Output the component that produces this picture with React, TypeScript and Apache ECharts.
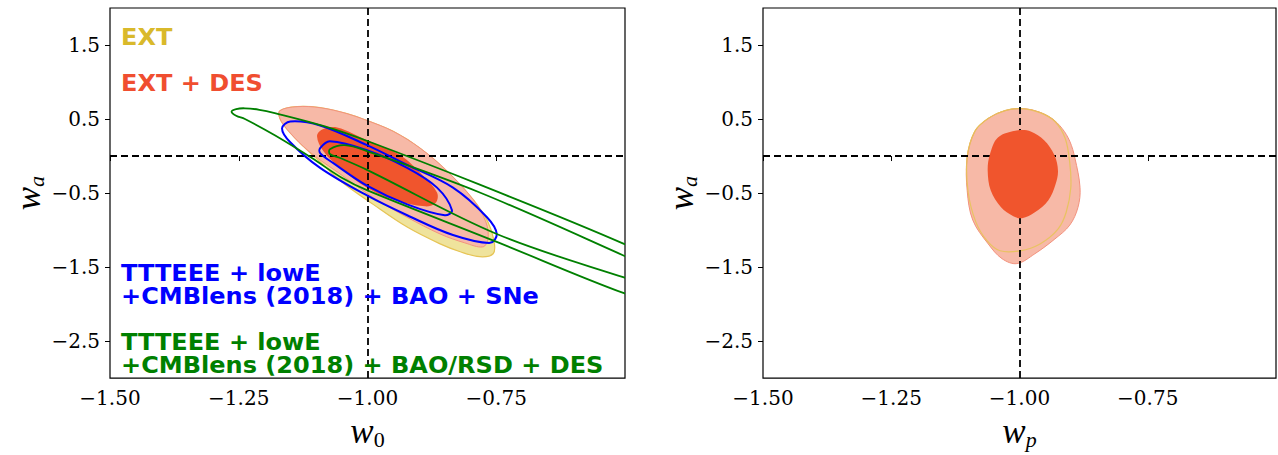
import React, { useEffect, useRef } from "react";
import * as echarts from "echarts";

// ---- axes ----
const X_MIN = -1.5;
const X_MAX = -0.5;
const Y_MIN = -3;
const Y_MAX = 2;
const xTickValues = [-1.5, -1.25, -1.0, -0.75];
const yTickValues = [-2.5, -1.5, -0.5, 0.5, 1.5];
const refW = -1.0;
const refWa = 0;

// ---- left panel contours (w0, wa) ----
const extOuterLeft = [
  [-1.17, 0.613], [-1.137, 0.667], [-1.092, 0.653], [-1.04, 0.573], [-1.001, 0.48],
  [-0.95, 0.333], [-0.898, 0.107], [-0.846, -0.2], [-0.795, -0.587], [-0.766, -0.893],
  [-0.754, -1.16], [-0.756, -1.32], [-0.782, -1.36], [-0.82, -1.293], [-0.859, -1.187],
  [-0.923, -0.96], [-0.989, -0.653], [-1.053, -0.333], [-1.092, -0.08], [-1.125, 0.133],
  [-1.156, 0.36], [-1.17, 0.507],
];
const extInnerLeft = [
  [-1.1, 0.29], [-1.09, 0.38], [-1.059, 0.4], [-1.001, 0.22], [-0.937, 0.0],
  [-0.89, -0.28], [-0.86, -0.52], [-0.862, -0.66], [-0.885, -0.71], [-0.95, -0.61],
  [-1.001, -0.45], [-1.055, -0.18], [-1.088, 0.06],
];
const desOuterLeft = [
  [-1.17, 0.613], [-1.137, 0.667], [-1.092, 0.653], [-1.04, 0.573], [-1.001, 0.48],
  [-0.95, 0.333], [-0.898, 0.107], [-0.846, -0.2], [-0.795, -0.587], [-0.77, -0.893],
  [-0.766, -1.12], [-0.776, -1.227], [-0.811, -1.173], [-0.859, -1.053], [-0.923, -0.827],
  [-0.989, -0.56], [-1.059, -0.213], [-1.092, -0.053], [-1.125, 0.133], [-1.156, 0.36],
  [-1.17, 0.507],
];
const desInnerLeft = [
  [-1.098, 0.267], [-1.088, 0.36], [-1.059, 0.387], [-1.001, 0.213], [-0.937, 0.013],
  [-0.892, -0.267], [-0.865, -0.493], [-0.867, -0.627], [-0.888, -0.68], [-0.95, -0.587],
  [-1.001, -0.427], [-1.053, -0.16], [-1.086, 0.067],
];
const blueOuterLeft = [
  [-1.166, 0.373], [-1.15, 0.467], [-1.092, 0.413], [-1.001, 0.147], [-0.923, -0.12],
  [-0.834, -0.427], [-0.768, -0.827], [-0.749, -1.053], [-0.762, -1.173], [-0.834, -1.067],
  [-0.923, -0.8], [-1.001, -0.533], [-1.092, -0.16], [-1.15, 0.187],
];
const blueInnerLeft = [
  [-1.092, 0.107], [-1.073, 0.2], [-1.001, 0.08], [-0.923, -0.16], [-0.865, -0.427],
  [-0.836, -0.733], [-0.85, -0.8], [-0.923, -0.653], [-1.001, -0.4], [-1.067, -0.093],
  [-1.092, 0.04],
];
const greenOuterLeft = [
  [-1.264, 0.6], [-1.255, 0.635], [-1.238, 0.645], [-1.21, 0.625], [-1.18, 0.58],
  [-1.083, 0.4], [-0.999, 0.2], [-0.782, -0.387], [-0.502, -1.187], [-0.354, -1.693],
  [-0.238, -2.267], [-0.354, -2.173], [-0.502, -1.853], [-0.749, -1.16], [-0.999, -0.467],
  [-1.05, -0.293], [-1.108, -0.027], [-1.18, 0.28], [-1.238, 0.5], [-1.255, 0.545],
];
const greenInnerLeft = [
  [-1.073, 0.093], [-1.044, 0.147], [-1.001, 0.067], [-0.782, -0.493], [-0.502, -1.347],
  [-0.455, -1.507], [-0.422, -1.71], [-0.455, -1.72], [-0.502, -1.64], [-0.749, -1.053],
  [-1.001, -0.187], [-1.053, -0.027], [-1.073, 0.027],
];

// ---- right panel contours (wp, wa) ----
const extOuterRight = [
  [-0.995, 0.64], [-0.96, 0.587], [-0.931, 0.467], [-0.911, 0.24], [-0.902, -0.093],
  [-0.9, -0.427], [-0.909, -0.76], [-0.925, -0.987], [-0.96, -1.187], [-0.999, -1.28],
  [-1.038, -1.28], [-1.063, -1.147], [-1.085, -0.893], [-1.1, -0.493], [-1.102, -0.027],
  [-1.087, 0.333], [-1.061, 0.507], [-1.028, 0.613],
];
const extInnerRight = [
  [-1.003, 0.38], [-0.975, 0.35], [-0.95, 0.22], [-0.93, 0.0], [-0.925, -0.2],
  [-0.93, -0.4], [-0.945, -0.6], [-0.97, -0.75], [-0.995, -0.82], [-1.015, -0.8],
  [-1.045, -0.68], [-1.065, -0.46], [-1.072, -0.2], [-1.068, 0.03], [-1.05, 0.28],
];
const desOuterRight = [
  [-0.995, 0.64], [-0.964, 0.6], [-0.937, 0.507], [-0.917, 0.373], [-0.902, 0.2],
  [-0.892, -0.027], [-0.882, -0.427], [-0.886, -0.693], [-0.902, -0.933], [-0.931, -1.12],
  [-0.97, -1.32], [-1.005, -1.453], [-1.034, -1.387], [-1.061, -1.187], [-1.091, -0.867],
  [-1.102, -0.467], [-1.102, -0.027], [-1.087, 0.333], [-1.061, 0.507], [-1.028, 0.613],
];
const desInnerRight = [
  [-1.003, 0.347], [-0.978, 0.333], [-0.952, 0.213], [-0.932, 0.013], [-0.925, -0.2],
  [-0.93, -0.387], [-0.944, -0.6], [-0.97, -0.76], [-0.995, -0.84], [-1.012, -0.813],
  [-1.036, -0.693], [-1.056, -0.467], [-1.062, -0.2], [-1.058, 0.013], [-1.042, 0.25],
];

// ---- legend texts ----
const labelExt = "EXT";
const labelExtDes = "EXT + DES";
const labelBlue = ["TTTEEE + lowE", "+CMBlens (2018) + BAO + SNe"];
const labelGreen = ["TTTEEE + lowE", "+CMBlens (2018) + BAO/RSD + DES"];

// ---- colours ----
const C_EXT = "#d9b92b";
const C_EXT_FILL = "#efe39c";
const C_EXT_EDGE = "#e6c455";
const C_DES = "#f04e30";
const C_DES_FILL = "#f7b9a7";
const C_DES_EDGE = "#f3927e";
const C_DES_IN = "#f0552d";
const C_BLUE = "#0000ff";
const C_GREEN = "#008000";

const fmt = (v: number, d: number) => (v < 0 ? "\u2212" : "") + Math.abs(v).toFixed(d);

const poly = (pts: number[][], axis: number, z: number, style: any, smooth = 0.35) => ({
  type: "custom",
  coordinateSystem: "cartesian2d",
  xAxisIndex: axis,
  yAxisIndex: axis,
  clip: true,
  silent: true,
  z,
  data: [pts[0]],
  renderItem: (_params: any, api: any) => ({
    type: "polygon",
    shape: { points: pts.map((p) => api.coord(p)), smooth },
    style,
  }),
});

const refSeries = (axis: number) => ({
  type: "line",
  xAxisIndex: axis,
  yAxisIndex: axis,
  data: [],
  z: 20,
  silent: true,
  markLine: {
    silent: true,
    symbol: ["none", "none"],
    label: { show: false },
    lineStyle: { color: "#000", width: 1.8, type: [7, 4] },
    data: [{ xAxis: refW }, { yAxis: refWa }],
  },
});

const richName = {
  w: { fontFamily: "Liberation Serif", fontStyle: "italic", fontSize: 35, color: "#000", lineHeight: 35 },
  s: { fontFamily: "Liberation Serif", fontSize: 22, color: "#000", lineHeight: 22, padding: [15, 0, 0, 0] },
  si: { fontFamily: "Liberation Serif", fontStyle: "italic", fontSize: 22, color: "#000", lineHeight: 22, padding: [15, 0, 0, 0] },
};

const xAxis = (gi: number, name: string) => ({
  type: "value",
  gridIndex: gi,
  min: X_MIN,
  max: X_MAX,
  axisLine: { show: false },
  splitLine: { show: false },
  axisTick: { show: true, customValues: xTickValues, length: 5, inside: false, lineStyle: { color: "#000", width: 1 } },
  axisLabel: {
    customValues: xTickValues,
    formatter: (v: number) => fmt(v, 2),
    color: "#000",
    fontFamily: "DejaVu Serif",
    fontSize: 20,
    margin: 10,
  },
  name,
  nameLocation: "middle",
  nameGap: 28,
  nameTextStyle: { rich: richName },
});

const yAxis = (gi: number, name: string) => ({
  type: "value",
  gridIndex: gi,
  min: Y_MIN,
  max: Y_MAX,
  axisLine: { show: false },
  splitLine: { show: false },
  axisTick: { show: true, customValues: yTickValues, length: 5, inside: false, lineStyle: { color: "#000", width: 1 } },
  axisLabel: {
    customValues: yTickValues,
    formatter: (v: number) => fmt(v, 1),
    color: "#000",
    fontFamily: "DejaVu Serif",
    fontSize: 20,
    margin: 10,
  },
  name,
  nameLocation: "middle",
  nameGap: 64,
  nameTextStyle: { rich: richName },
});

const legendText = (text: string, y: number, color: string) => ({
  type: "text",
  x: 121,
  y,
  z: 100,
  scaleX: 1.045,
  style: {
    text,
    fill: color,
    fontFamily: "DejaVu Sans",
    fontWeight: "bold",
    fontSize: 23,
    lineHeight: 23,
    verticalAlign: "middle",
    align: "left",
  },
});

export default function App() {
  const ref = useRef<HTMLDivElement>(null);
  useEffect(() => {
    document.body.style.margin = "0";
    const chart = echarts.init(ref.current!, null, { renderer: "svg" });
    const grid = { show: true, borderColor: "#000", borderWidth: 1.2, backgroundColor: "transparent", containLabel: false };
    chart.setOption({
      animation: false,
      backgroundColor: "#fff",
      grid: [
        { ...grid, left: 110, top: 8, width: 515, height: 375 },
        { ...grid, left: 763, top: 8, width: 513, height: 375 },
      ],
      xAxis: [xAxis(0, "{w|w}{s|0}"), xAxis(1, "{w|w}{si|p}")],
      yAxis: [yAxis(0, "{w|w}{si|a}"), yAxis(1, "{w|w}{si|a}")],
      series: [
        poly(extOuterLeft, 0, 1, { fill: C_EXT_FILL, stroke: C_EXT_EDGE, lineWidth: 1.2 }),
        poly(extInnerLeft, 0, 2, { fill: "#e9d160", stroke: "none" }),
        poly(desOuterLeft, 0, 3, { fill: C_DES_FILL, stroke: C_DES_EDGE, lineWidth: 1 }),
        poly(desInnerLeft, 0, 4, { fill: C_DES_IN, stroke: "none" }),
        poly(blueOuterLeft, 0, 5, { fill: "none", stroke: C_BLUE, lineWidth: 2 }),
        poly(blueInnerLeft, 0, 5, { fill: "none", stroke: C_BLUE, lineWidth: 2 }),
        poly(greenOuterLeft, 0, 6, { fill: "none", stroke: C_GREEN, lineWidth: 1.8 }),
        poly(greenInnerLeft, 0, 6, { fill: "none", stroke: C_GREEN, lineWidth: 1.8 }),
        refSeries(0),
        poly(extOuterRight, 1, 1, { fill: C_EXT_FILL, stroke: C_EXT_EDGE, lineWidth: 1.2 }),
        poly(extInnerRight, 1, 2, { fill: "#e9d160", stroke: "none" }),
        poly(desOuterRight, 1, 3, { fill: C_DES_FILL, stroke: C_DES_EDGE, lineWidth: 1 }),
        poly(extOuterRight, 1, 4, { fill: "none", stroke: C_EXT_EDGE, lineWidth: 1.2, opacity: 0.85 }),
        poly(desInnerRight, 1, 5, { fill: C_DES_IN, stroke: "none" }),
        refSeries(1),
      ],
      graphic: [
        legendText(labelExt, 37.5, C_EXT),
        legendText(labelExtDes, 83.5, C_DES),
        legendText(labelBlue.join("\n"), 284.5, C_BLUE),
        legendText(labelGreen.join("\n"), 354, C_GREEN),
      ],
    });
    return () => chart.dispose();
  }, []);
  return <div ref={ref} style={{ width: 1278, height: 455 }} />;
}
